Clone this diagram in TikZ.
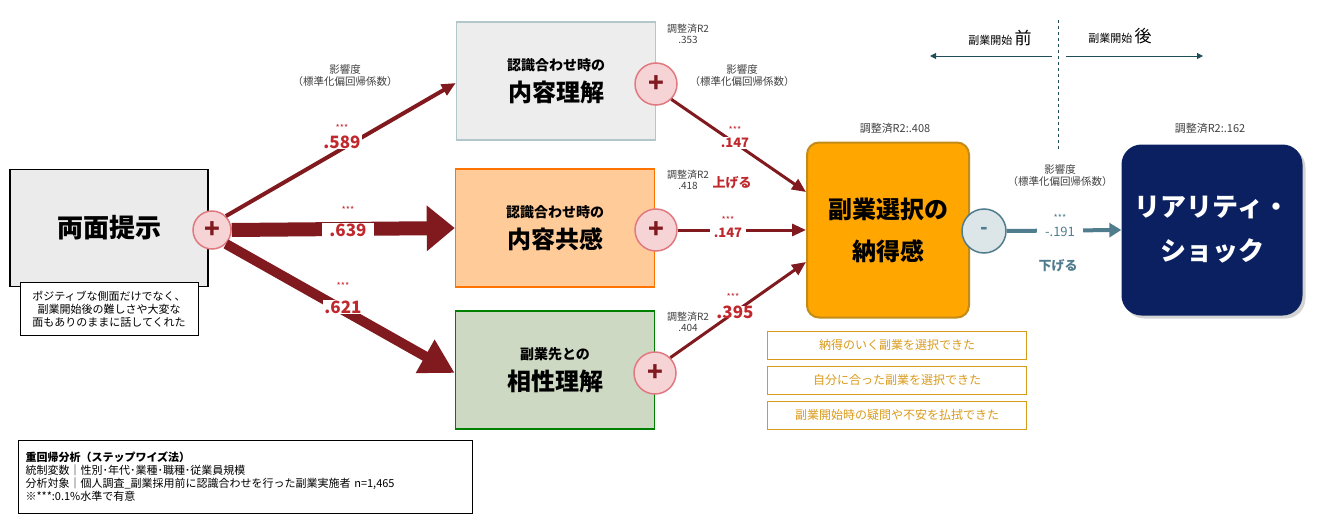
\documentclass[tikz,border=0pt]{standalone}
\usepackage{fontspec}
\setmainfont{Noto Sans CJK JP}
\newfontfamily\jpb{Noto Sans CJK JP Bold}
\usetikzlibrary{arrows.meta,shadows}
\definecolor{dred}{HTML}{801A1E}
\definecolor{sred}{HTML}{C0282D}
\definecolor{pinkf}{HTML}{F6D3D5}
\definecolor{pinkd}{HTML}{E07A80}
\definecolor{teal}{HTML}{1F4E5A}
\definecolor{steel}{HTML}{507D8E}
\definecolor{gold}{HTML}{D99A1A}
\definecolor{navy}{HTML}{0A2060}
\tikzset{
  plus/.style={circle,draw=pinkd,fill=pinkf,line width=1.5pt,minimum size=42pt,inner sep=0pt,font=\fontsize{26}{26}\selectfont\bfseries,text=dred},
  med/.style={draw,line width=1.5pt,minimum width=199pt,minimum height=118pt,align=center},
  small/.style={font=\fontsize{10.5}{12}\selectfont,text=black!75,align=center},
  coef/.style={fill=white,inner sep=1pt,text=sred,font=\fontsize{17}{17}\selectfont\bfseries},
  star/.style={text=sred,font=\fontsize{9}{9}\selectfont},
  arr/.style={draw=dred,-{Triangle[length=14pt,width=12pt]},line width=3pt},
  item/.style={draw=gold,text=gold,minimum width=259pt,minimum height=28pt,font=\fontsize{12}{12}\selectfont,inner sep=0pt}
}
\begin{document}
\begin{tikzpicture}[x=1pt,y=-1pt]
\useasboundingbox (0,0) rectangle (1320,530);
% left box
\node[draw,line width=1.8pt,fill=black!8,minimum width=198pt,minimum height=117pt,inner sep=0pt,font=\fontsize{26}{26}\selectfont\bfseries] (src) at (109,228) {両面提示};
\node[draw,fill=white,align=center,font=\fontsize{11}{13}\selectfont,minimum width=178pt,minimum height=53pt,inner sep=1pt] (cap) at (109,309) {ポジティブな側面だけでなく、\\副業開始後の難しさや大変な\\面もありのままに話してくれた};
% middle boxes
\node[med,draw=blue!20!cyan!20!gray!50,fill=cyan!5!blue!5!gray!15] (b1) at (556,81) {\fontsize{14}{14}\selectfont\bfseries 認識合わせ時の\\[8pt]\fontsize{24}{24}\selectfont\bfseries 内容理解};
\node[med,draw=orange!90!red,fill=orange!40] (b2) at (555,228) {\fontsize{14}{14}\selectfont\bfseries 認識合わせ時の\\[8pt]\fontsize{24}{24}\selectfont\bfseries 内容共感};
\node[med,draw=green!50!black,fill=green!40!lime!10!white!85!black] (b3) at (555,370) {\fontsize{14}{14}\selectfont\bfseries 副業先との\\[8pt]\fontsize{24}{24}\selectfont\bfseries 相性理解};
% target boxes
\node[draw=gold!90!black,line width=2pt,fill=orange!70!yellow,rounded corners=12pt,minimum width=162pt,minimum height=175pt,align=center,font=\fontsize{24}{24}\selectfont\bfseries] (nt) at (888,230) {副業選択の\\[18pt]納得感};
\node[fill=navy,text=white,rounded corners=20pt,minimum width=181pt,minimum height=171pt,align=center,font=\fontsize{26}{26}\selectfont\bfseries,drop shadow={opacity=0.35,shadow xshift=3pt,shadow yshift=-3pt}] (rs) at (1212,230) {リアリティ・\\[18pt]ショック};
% circles
\node[plus,minimum size=38pt] (p0) at (212,230) {+};
\node[plus] (p1) at (656,84) {+};
\node[plus] (p2) at (656,230) {+};
\node[plus] (p3) at (655,373) {+};
\node[circle,draw=steel,fill=steel!20!white,line width=1.5pt,minimum size=44pt,inner sep=0pt,font=\fontsize{20}{20}\selectfont\bfseries,text=steel] (m) at (984,231) {-};
% arrows from source
\draw[arr,line width=4pt] (p0.north east) -- (b1.west |- 0,83);
\draw[draw=dred,line width=14pt,-{Triangle[length=28pt,width=44pt]}] (p0.east) -- (b2.west);
\draw[draw=dred,line width=10pt,-{Triangle[length=34pt,width=36pt]}] (p0.south east) -- (b3.west |- 0,373);
\node[coef] (c1) at (342,142) {.589};
\node[star] at (342,128) {***};
\node[coef,fill=white,minimum width=52pt] (c2) at (348,230) {.639};
\node[star] at (348,210) {***};
\node[coef,minimum width=30pt] (c3) at (343,307) {.621};
\node[star] at (343,286) {***};
\node[small] at (345,76) {影響度\\（標準化偏回帰係数）};
% arrows to target
\draw[arr] (p1.south east) -- (nt.west |- 0,192);
\draw[arr] (p2.east) -- (nt.west);
\draw[arr] (p3.north east) -- (nt.west |- 0,262);
\node[coef,font=\fontsize{13}{13}\selectfont\bfseries] at (735,143) {.147};
\node[star] at (735,130) {***};
\node[coef,font=\fontsize{13}{13}\selectfont\bfseries,minimum width=36pt] at (728,233) {.147};
\node[star] at (728,220) {***};
\node[coef,inner sep=0pt] at (735,312) {.395};
\node[star] at (733,297) {***};
\node[text=sred,font=\fontsize{13}{13}\selectfont\bfseries] at (732,183) {上げる};
\node[small] at (742,76) {影響度\\（標準化偏回帰係数）};
\node[small,font=\fontsize{10}{11}\selectfont] at (688,34) {調整済R2\\.353};
\node[small,font=\fontsize{10}{11}\selectfont] at (688,180) {調整済R2\\.418};
\node[small,font=\fontsize{10}{11}\selectfont] at (688,322) {調整済R2\\.404};
% minus arrow
\draw[draw=steel,line width=4pt,-{Triangle[length=12pt,width=14pt]}] (m.east) -- (rs.west);
\node[fill=white,text=steel,font=\fontsize{13}{13}\selectfont,minimum width=46pt,inner sep=1pt] at (1060,232) {-.191};
\node[text=steel,font=\fontsize{9}{9}\selectfont] at (1060,218) {***};
\node[text=steel,font=\fontsize{13}{13}\selectfont\bfseries] at (1058,266) {下げる};
\node[small] at (1060,176) {影響度\\（標準化偏回帰係数）};
\node[small,font=\fontsize{11}{11}\selectfont] at (895,128) {調整済R2:.408};
\node[small,font=\fontsize{11}{11}\selectfont] at (1210,128) {調整済R2:.162};
% before/after
\coordinate (d0) at (1058,20); \coordinate (d1) at (1058,150);
\draw[dashed,teal] (d0) -- (d1);
\coordinate (la) at (1052,56); \coordinate (lb) at (930,56);
\coordinate (ra) at (1066,56); \coordinate (rb) at (1203,56);
\draw[teal,line width=1pt,-{Triangle[length=6pt,width=6pt]}] (la) -- (lb);
\draw[teal,line width=1pt,-{Triangle[length=6pt,width=6pt]}] (ra) -- (rb);
\node[font=\fontsize{11}{11}\selectfont] at (1000,38) {副業開始 \fontsize{17}{17}\selectfont 前};
\node[font=\fontsize{11}{11}\selectfont] at (1120,36) {副業開始 \fontsize{17}{17}\selectfont 後};
% items
\node[item] (i1) at (897,345) {納得のいく副業を選択できた};
\node[item] (i2) at (897,380) {自分に合った副業を選択できた};
\node[item] (i3) at (897,415) {副業開始時の疑問や不安を払拭できた};
% note
\node[draw,line width=1pt,minimum width=453pt,minimum height=73pt,align=left,anchor=north west,inner sep=7pt,font=\fontsize{11}{13}\selectfont,text width=440pt] (note) at (18,440) {{\bfseries 重回帰分析（ステップワイズ法）}\\統制変数｜性別･年代･業種･職種･従業員規模\\分析対象｜個人調査\_副業採用前に認識合わせを行った副業実施者 n=1,465\\※***:0.1\%水準で有意};
\end{tikzpicture}
\end{document}
